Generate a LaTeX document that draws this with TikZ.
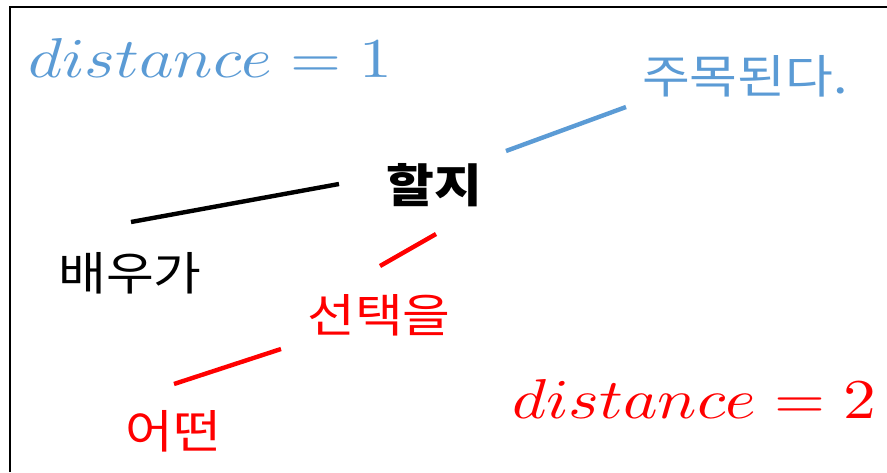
\documentclass[tikz,border=0pt]{standalone}
\usepackage{fontspec}
\usepackage{graphicx}
\newfontfamily\kr[FakeStretch=1.13]{Noto Sans CJK KR}
\definecolor{myblue}{RGB}{91,155,213}
\definecolor{myred}{RGB}{255,0,0}
\newcommand{\distlbl}[1]{\resizebox{364pt}{39pt}{$distance = #1$}}
\begin{document}
\begin{tikzpicture}[x=1pt,y=-1pt,
  word/.style={inner sep=0pt,font=\kr\fontsize{46}{46}\selectfont},
  mathlbl/.style={inner sep=0pt,anchor=base west},
  link/.style={line width=4.4pt}]
\useasboundingbox (0,0) rectangle (887,472);
\fill[white] (0,0) rectangle (887,472);
\draw[line width=1.3pt] (10,472) -- (10,7) -- (887,7);
% labels
\node[mathlbl,text=myblue] (d1) at (28,77) {\distlbl{1}};
\node[mathlbl,text=myred] (d2) at (512,418) {\distlbl{2}};
\node[word,text=myblue] (ju) at (745,76) {주목된다.};
\node[word,font=\kr\bfseries\fontsize{46}{46}\selectfont] (hal) at (434,185) {할지};
\node[word] (bae) at (130,273) {배우가};
\node[word,text=myred] (sun) at (379,315) {선택을};
\node[word,text=myred] (eo) at (173,431) {어떤};
% connector endpoints
\coordinate (b1) at (506,151); \coordinate (b2) at (626,107);
\coordinate (k1) at (131,222); \coordinate (k2) at (339,184);
\coordinate (r1) at (380,266); \coordinate (r2) at (436,234);
\coordinate (s1) at (174,384); \coordinate (s2) at (281,349);
\draw[link,myblue] (b1) -- (b2);
\draw[link,black] (k1) -- (k2);
\draw[link,myred] (r1) -- (r2);
\draw[link,myred] (s1) -- (s2);
\end{tikzpicture}
\end{document}
